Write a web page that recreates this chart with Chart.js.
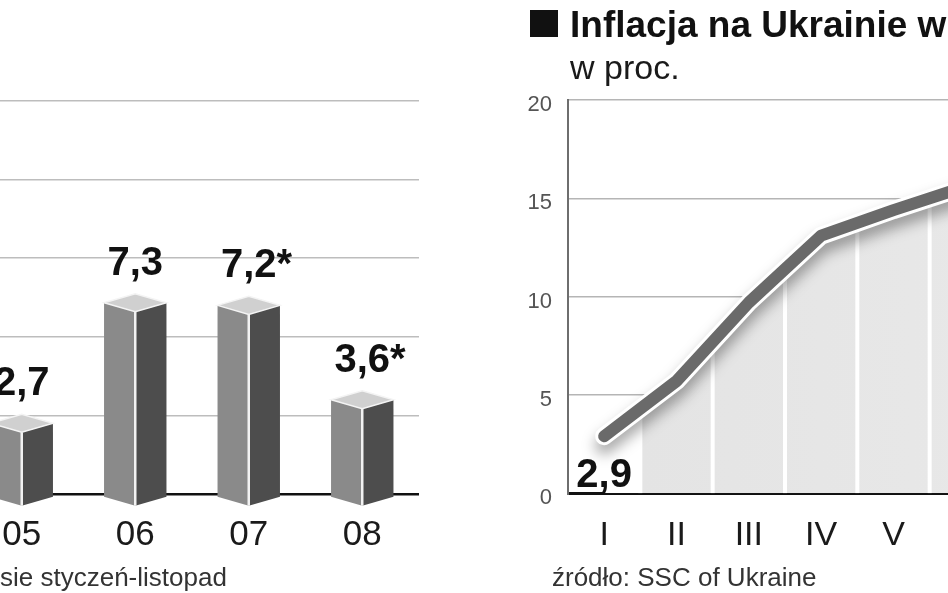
<!DOCTYPE html>
<html>
<head>
<meta charset="utf-8">
<script src="https://cdn.jsdelivr.net/npm/chart.js@4.4.1/dist/chart.umd.min.js"></script>
<style>
html, body { margin: 0; padding: 0; background: #fff; }
body { width: 948px; height: 593px; overflow: hidden; position: relative; font-family: "Liberation Sans", Arial, sans-serif; }
#barBox { position: absolute; left: -35px; top: 0; width: 454px; height: 568px; }
#lineBox { position: absolute; left: 508px; top: 0; width: 494px; height: 570px; }
.sq { position: absolute; left: 530px; top: 10px; width: 28px; height: 27px; background: #111; }
.title { position: absolute; left: 570px; top: 6px; font-size: 37px; line-height: 37px; font-weight: bold; color: #111; white-space: nowrap; }
.sub { position: absolute; left: 570px; top: 50px; font-size: 34px; line-height: 34px; color: #1a1a1a; white-space: nowrap; }
.note { position: absolute; top: 564px; font-size: 26px; line-height: 26px; color: #333; white-space: nowrap; }
</style>
</head>
<body>
<div id="barBox"><canvas id="barChart"></canvas></div>
<div id="lineBox"><canvas id="lineChart"></canvas></div>
<div class="sq"></div>
<div class="title">Inflacja na Ukrainie w</div>
<div class="sub">w proc.</div>
<div class="note" style="left:0px">sie styczeń-listopad</div>
<div class="note" style="left:552px">źródło: SSC of Ukraine</div>

<script>
// dane - wykres slupkowy (lata)
const years = ["05", "06", "07", "08"];
const yearValues = [2.7, 7.3, 7.2, 3.6];
const yearEstimated = [false, false, true, true]; // gwiazdka = styczeń-listopad

// dane - inflacja na Ukrainie, miesiace
const months = ["I", "II", "III", "IV", "V", "VI"];
const monthValues = [2.9, 5.7, 9.7, 13.1, 14.4, 15.6];
const lineTicks = [0, 5, 10, 15, 20];

function fmt(v) { return String(v).replace(".", ","); }

// slupki 3D rysowane z pozycji elementow Chart.js
const bars3d = {
  id: "bars3d",
  afterDatasetsDraw(chart) {
    const ctx = chart.ctx;
    const meta = chart.getDatasetMeta(0);
    meta.data.forEach(function (bar, i) {
      const p = bar.getProps(["x", "y", "base", "width"], true);
      const x0 = p.x - p.width / 2, x1 = p.x + p.width / 2, xc = p.x;
      const top = p.y, base = p.base + 4, d = 9;
      ctx.save();
      // lewa sciana
      ctx.fillStyle = "#8a8a8a";
      ctx.beginPath();
      ctx.moveTo(x0, top); ctx.lineTo(xc, top + d); ctx.lineTo(xc, base + d); ctx.lineTo(x0, base);
      ctx.closePath(); ctx.fill();
      // prawa sciana
      ctx.fillStyle = "#4d4d4d";
      ctx.beginPath();
      ctx.moveTo(xc, top + d); ctx.lineTo(x1, top); ctx.lineTo(x1, base); ctx.lineTo(xc, base + d);
      ctx.closePath(); ctx.fill();
      // wierzch
      ctx.fillStyle = "#d0d0d0";
      ctx.strokeStyle = "#f4f4f4";
      ctx.lineWidth = 1.5;
      ctx.beginPath();
      ctx.moveTo(x0, top); ctx.lineTo(xc, top - d); ctx.lineTo(x1, top); ctx.lineTo(xc, top + d);
      ctx.closePath(); ctx.fill(); ctx.stroke();
      // krawedz
      ctx.strokeStyle = "#f2f2f2";
      ctx.lineWidth = 2.5;
      ctx.beginPath(); ctx.moveTo(xc, top + d); ctx.lineTo(xc, base + d); ctx.stroke();
      // etykieta
      ctx.fillStyle = "#111";
      ctx.font = "bold 40px 'Liberation Sans', Arial, sans-serif";
      ctx.textBaseline = "alphabetic";
      ctx.textAlign = "left";
      const num = fmt(yearValues[i]);
      const w = ctx.measureText(num).width;
      ctx.fillText(num + (yearEstimated[i] ? "*" : ""), xc - w / 2, top - 28);
      ctx.restore();
    });
  }
};

new Chart(document.getElementById("barChart"), {
  type: "bar",
  data: {
    labels: years,
    datasets: [{
      data: yearValues,
      backgroundColor: "rgba(0,0,0,0)",
      borderWidth: 0,
      categoryPercentage: 1,
      barPercentage: 0.55
    }]
  },
  options: {
    responsive: true,
    maintainAspectRatio: false,
    animation: false,
    layout: { padding: { top: 101, left: 0, right: 0, bottom: 0 } },
    plugins: { legend: { display: false }, tooltip: { enabled: false } },
    scales: {
      x: {
        grid: { display: false },
        border: { display: false },
        ticks: { color: "#1a1a1a", padding: 12, font: { size: 35, family: "'Liberation Sans', Arial, sans-serif" } }
      },
      y: {
        min: 0, max: 15,
        ticks: { display: false, stepSize: 3 },
        border: { display: false },
        grid: {
          drawTicks: false,
          color: function (c) { return c.tick.value === 0 ? "#111" : "#bdbdbd"; },
          lineWidth: function (c) { return c.tick.value === 0 ? 2.5 : 1.5; }
        }
      }
    }
  },
  plugins: [bars3d]
});

// biale pasy miedzy miesiacami (tylko pod linia) + etykieta 2,9
const lineDeco = {
  id: "lineDeco",
  beforeDatasetDraw(chart, args) {
    if (args.index === 1) {
      chart.ctx.save();
      chart.ctx.shadowColor = "rgba(0,0,0,0.35)";
      chart.ctx.shadowBlur = 14;
      chart.ctx.shadowOffsetY = 9;
    }
  },
  afterDatasetDraw(chart, args) {
    const ctx = chart.ctx;
    const area = chart.chartArea;
    const xs = chart.scales.x;
    if (args.index === 1) ctx.restore();
    if (args.index === 2) {
      const pts = chart.getDatasetMeta(2).data;
      ctx.save();
      ctx.beginPath();
      ctx.moveTo(pts[0].x, area.bottom);
      pts.forEach(function (p) { ctx.lineTo(p.x, p.y); });
      ctx.lineTo(pts[pts.length - 1].x, area.bottom);
      ctx.closePath();
      ctx.clip();
      ctx.strokeStyle = "#ffffff";
      ctx.lineWidth = 4;
      for (let i = 0; i < months.length - 1; i++) {
        const bx = (xs.getPixelForValue(i) + xs.getPixelForValue(i + 1)) / 2;
        ctx.beginPath(); ctx.moveTo(bx, area.top); ctx.lineTo(bx, area.bottom); ctx.stroke();
      }
      ctx.restore();
    }
    if (args.index === 0) {
      const p = chart.getDatasetMeta(0).data[0];
      ctx.save();
      ctx.fillStyle = "#111";
      ctx.font = "bold 40px 'Liberation Sans', Arial, sans-serif";
      ctx.textAlign = "center";
      ctx.textBaseline = "alphabetic";
      ctx.fillText(fmt(monthValues[0]), p.x, area.bottom - 6);
      ctx.restore();
    }
  }
};

function fillColor(c) {
  const chart = c.chart;
  if (!chart.chartArea) return "#e4e4e4";
  const xs = chart.scales.x;
  const a = chart.chartArea;
  const b = (xs.getPixelForValue(0) + xs.getPixelForValue(1)) / 2;
  const g = chart.ctx.createLinearGradient(a.left, 0, a.right, 0);
  const s = Math.min(Math.max((b - a.left) / (a.right - a.left), 0), 1);
  g.addColorStop(0, "#ffffff");
  g.addColorStop(s, "#ffffff");
  g.addColorStop(s, "#e4e4e4");
  g.addColorStop(1, "#e8e8e8");
  return g;
}

new Chart(document.getElementById("lineChart"), {
  type: "line",
  data: {
    labels: months,
    datasets: [
      { data: monthValues, borderColor: "#6a6a6a", borderWidth: 12, borderCapStyle: "round", borderJoinStyle: "round", pointRadius: 0, fill: false, tension: 0 },
      { data: monthValues, borderColor: "#ffffff", borderWidth: 18, borderCapStyle: "round", borderJoinStyle: "round", pointRadius: 0, fill: false, tension: 0 },
      { data: monthValues, borderWidth: 0, pointRadius: 0, fill: "origin", backgroundColor: fillColor, tension: 0 }
    ]
  },
  options: {
    responsive: true,
    maintainAspectRatio: false,
    animation: false,
    layout: { padding: { top: 100, left: 0, right: 0, bottom: 0 } },
    plugins: { legend: { display: false }, tooltip: { enabled: false } },
    scales: {
      x: {
        offset: true,
        grid: { display: false },
        border: { display: false },
        ticks: { color: "#1a1a1a", padding: 14, font: { size: 34, family: "'Liberation Sans', Arial, sans-serif" } }
      },
      y: {
        min: 0, max: 20,
        afterFit: function (s) { s.width = 60; },
        afterBuildTicks: function (s) { s.ticks = lineTicks.map(function (v) { return { value: v }; }); },
        ticks: { color: "#555", padding: 16, labelOffset: 5, font: { size: 22, family: "'Liberation Sans', Arial, sans-serif" } },
        border: { display: true, color: "#6e6e6e", width: 2 },
        grid: {
          drawTicks: false,
          color: function (c) { return c.tick.value === 0 ? "#111" : "#b5b5b5"; },
          lineWidth: function (c) { return c.tick.value === 0 ? 3 : 1.5; }
        }
      }
    }
  },
  plugins: [lineDeco]
});
</script>
</body>
</html>
